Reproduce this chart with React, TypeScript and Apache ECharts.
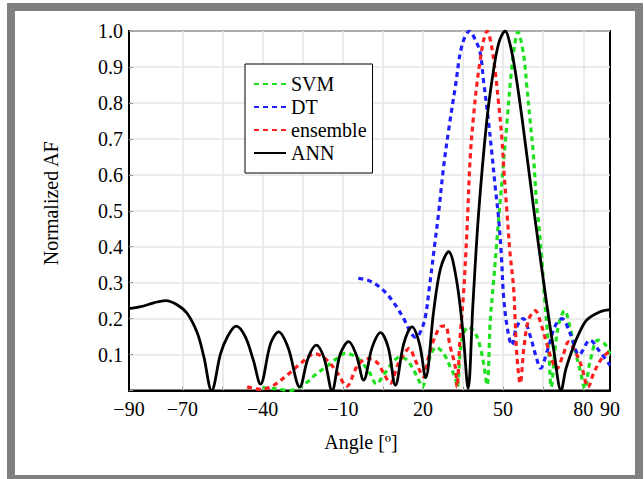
import React, { useEffect, useRef } from 'react';
import * as echarts from 'echarts';

const xLabelValues = [-90, -70, -40, -10, 20, 50, 80, 90];
const xGridValues = [-70, -55, -40, -25, -10, 5, 20, 35, 50, 65, 80];
const seriesNames = ['SVM', 'DT', 'ensemble', 'ANN'];

const svmPoints: [number, number][] = [
  [-40, 0.008], [-35, 0.005], [-30, 0.0], [-26, 0.01], [-23, 0.025], [-20.9, 0.04], [-15.9, 0.068],
  [-12, 0.09], [-9, 0.104], [-5.5, 0.095], [-3.4, 0.083], [0, 0.05], [2.6, 0.018], [5, 0.04],
  [6.6, 0.057], [9, 0.082], [11.5, 0.093], [14, 0.085], [16.5, 0.057], [18.4, 0.029], [19.8, 0.01],
  [22, 0.08], [25, 0.12], [27.7, 0.103], [30.2, 0.066], [32.1, 0.035], [32.8, 0.01], [34.5, 0.14],
  [37, 0.177], [39.6, 0.159], [41.4, 0.122], [42.7, 0.075], [44, 0.015], [45.2, 0.196], [46.4, 0.3],
  [48.3, 0.474], [50, 0.62], [51.5, 0.75], [53, 0.88], [54.3, 0.96], [55.5, 0.997], [57.6, 0.937],
  [58.9, 0.844], [60.1, 0.751], [61.3, 0.659], [62.6, 0.51], [63.2, 0.474], [64.5, 0.362], [65.7, 0.242],
  [67, 0.122], [68, 0.01], [69.5, 0.12], [71, 0.19], [73, 0.222], [75, 0.177], [76.9, 0.112],
  [78.8, 0.057], [80.6, 0.005], [82.5, 0.08], [85.5, 0.14], [88, 0.13], [90, 0.1],
];

const dtPoints: [number, number][] = [
  [-4.2, 0.312], [0, 0.305], [5, 0.28], [9, 0.245], [12.8, 0.2], [15.5, 0.16], [17.3, 0.148],
  [19.2, 0.165], [20.9, 0.205], [22.3, 0.28], [24.6, 0.418], [25.8, 0.49], [27.7, 0.62], [29.6, 0.724],
  [32.1, 0.844], [34.6, 0.96], [37.5, 1.0], [39.6, 0.975], [41.4, 0.94], [42.7, 0.86], [44.5, 0.75],
  [45.8, 0.66], [47, 0.57], [48.3, 0.48], [49.3, 0.38], [50.3, 0.25], [51.9, 0.16], [53.3, 0.126],
  [55, 0.175], [57.5, 0.2], [60, 0.155], [62.5, 0.09], [64, 0.062], [66.5, 0.11], [69.5, 0.18],
  [72, 0.2], [75, 0.16], [78.5, 0.1], [82.5, 0.14], [86, 0.11], [90, 0.07],
];

const ensemblePoints: [number, number][] = [
  [-45.8, 0.01], [-40.8, 0.003], [-35.8, 0.015], [-30.8, 0.043], [-25.8, 0.075], [-20.5, 0.102],
  [-16, 0.085], [-12.1, 0.05], [-8.5, 0.012], [-4.7, 0.066], [-0.9, 0.089], [2.8, 0.078], [5.5, 0.045],
  [7.8, 0.02], [10.5, 0.07], [12.8, 0.1], [14.8, 0.117], [17.1, 0.085], [19, 0.052], [20.2, 0.038],
  [22.3, 0.1], [24, 0.14], [26.5, 0.177], [28.3, 0.18], [30.2, 0.122], [32.1, 0.066], [32.7, 0.01],
  [33.9, 0.149], [35.2, 0.27], [36.5, 0.45], [37.7, 0.65], [38.9, 0.76], [40.2, 0.853], [41.4, 0.918],
  [42.7, 0.974], [44, 1.0], [45.5, 0.965], [47, 0.89], [48.3, 0.8], [49.5, 0.705], [50.3, 0.612],
  [51.4, 0.5], [52.6, 0.381], [53.9, 0.288], [54.5, 0.196], [55.1, 0.103], [56.4, 0.02], [57.8, 0.12],
  [59.5, 0.196], [62, 0.222], [64.5, 0.177], [66.3, 0.131], [68, 0.09], [70, 0.06], [72.5, 0.1],
  [74.5, 0.135], [77.6, 0.099], [79.4, 0.066], [81.8, 0.01], [84, 0.05], [87, 0.09], [90, 0.11],
];

const annPoints: [number, number][] = [
  [-90, 0.228], [-85.6, 0.233], [-80.7, 0.244], [-76.3, 0.25], [-71.9, 0.238], [-68.2, 0.214],
  [-64.4, 0.159], [-62, 0.094], [-59.1, 0.0], [-55.7, 0.103], [-53.2, 0.149], [-49.9, 0.179],
  [-46.5, 0.15], [-43.5, 0.085], [-40.8, 0.018], [-37, 0.131], [-34, 0.163], [-30.5, 0.12],
  [-26.1, 0.01], [-23, 0.09], [-19.9, 0.126], [-17, 0.09], [-14, 0.0], [-11, 0.1], [-7.8, 0.136],
  [-5, 0.1], [-2.2, 0.029], [1, 0.12], [4.1, 0.161], [7, 0.12], [9.7, 0.015], [12.8, 0.13],
  [15.9, 0.177], [18.7, 0.13], [21, 0.036], [24, 0.22], [26.6, 0.34], [29.6, 0.386], [32.5, 0.31],
  [35, 0.16], [36.9, 0.006], [38.7, 0.24], [40.8, 0.49], [43.9, 0.751], [46.4, 0.89], [48.5, 0.97],
  [50.8, 1.0], [52.7, 0.96], [54.5, 0.89], [57.2, 0.751], [62, 0.474], [66.3, 0.242], [69, 0.11],
  [71.7, 0.0], [73.5, 0.06], [76.3, 0.122], [78.5, 0.16], [81.3, 0.196], [86.3, 0.219], [90, 0.225],
];

const GREEN = '#1fe01f';
const BLUE = '#1f1fff';
const RED = '#ff1f1f';
const BLACK = '#000000';

export default function App() {
  const ref = useRef<HTMLDivElement>(null);
  useEffect(() => {
    if (!ref.current) return;
    const chart = echarts.init(ref.current, undefined, { renderer: 'svg' });
    const font = 'Liberation Serif';
    const serif = { fontFamily: font, fontSize: 20, color: '#000', fontWeight: 'normal' as const };
    const dashed = (color: string) => ({ color, width: 3.2, type: [5, 4] as number[] });
    const mk = (name: string, data: [number, number][], lineStyle: any) => ({
      name,
      type: 'line',
      data,
      symbol: 'none',
      showSymbol: false,
      smooth: 0.35,
      lineStyle,
      itemStyle: { color: lineStyle.color },
    });
    chart.setOption({
      animation: false,
      backgroundColor: '#ffffff',
      textStyle: { fontFamily: font },
      grid: {
        left: 129, top: 31, right: 34, bottom: 88.5,
        show: true, borderColor: '#000', borderWidth: 2,
        outerBoundsMode: 'none',
      },
      graphic: [
        {
          type: 'rect', silent: true,
          shape: { x: 11, y: 7, width: 628, height: 472 },
          style: { fill: 'none', stroke: '#808080', lineWidth: 8 },
        },
      ],
      legend: {
        orient: 'vertical', left: 245, top: 64,
        data: seriesNames,
        itemWidth: 32, itemHeight: 14, itemGap: 3,
        padding: [10, 6, 10, 8],
        backgroundColor: '#fff', borderColor: '#000', borderWidth: 1,
        itemStyle: { opacity: 0 },
        formatter: (name: string) => '{s|' + name + '}',
        textStyle: { ...serif, rich: { s: { ...serif } } },
      },
      xAxis: {
        type: 'value', min: -90, max: 90,
        axisLine: { show: true, onZero: false, lineStyle: { color: '#000', width: 2 } },
        axisTick: { show: true, inside: true, length: 4, customValues: xGridValues, lineStyle: { color: '#999', width: 1 } },
        axisLabel: {
          customValues: xLabelValues,
          formatter: (v: number) => '{s|' + (v < 0 ? '\u2212' + Math.abs(v) : String(v)) + '}',
          ...serif, margin: 8,
          rich: { s: { ...serif } },
        },
        splitLine: { show: true, lineStyle: { color: '#e4e4e4', width: 1.5 } },
        name: 'Angle [º]', nameLocation: 'middle', nameGap: 41,
        nameTextStyle: { ...serif, padding: [0, 17, 0, 0] },
      },
      yAxis: {
        type: 'value', min: 0, max: 1, interval: 0.1,
        axisLine: { show: true, onZero: false, lineStyle: { color: '#000', width: 2 } },
        axisTick: { show: true, inside: true, length: 4, lineStyle: { color: '#999', width: 1 } },
        axisLabel: {
          formatter: (v: number) => (v === 0 ? '' : '{s|' + v.toFixed(1) + '}'),
          ...serif, margin: 6,
          rich: { s: { ...serif } },
        },
        splitLine: { show: true, lineStyle: { color: '#e4e4e4', width: 1.5 } },
        name: 'Normalized AF', nameLocation: 'middle', nameGap: 68,
        nameTextStyle: { ...serif, padding: [0, 0, 0, 15] },
      },
      series: [
        mk('SVM', svmPoints, dashed(GREEN)),
        mk('DT', dtPoints, dashed(BLUE)),
        mk('ensemble', ensemblePoints, dashed(RED)),
        mk('ANN', annPoints, { color: BLACK, width: 2.8, type: 'solid' }),
      ],
    });
    return () => chart.dispose();
  }, []);
  return <div ref={ref} style={{ position: 'fixed', left: 0, top: 0, width: 644, height: 479 }} />;
}
